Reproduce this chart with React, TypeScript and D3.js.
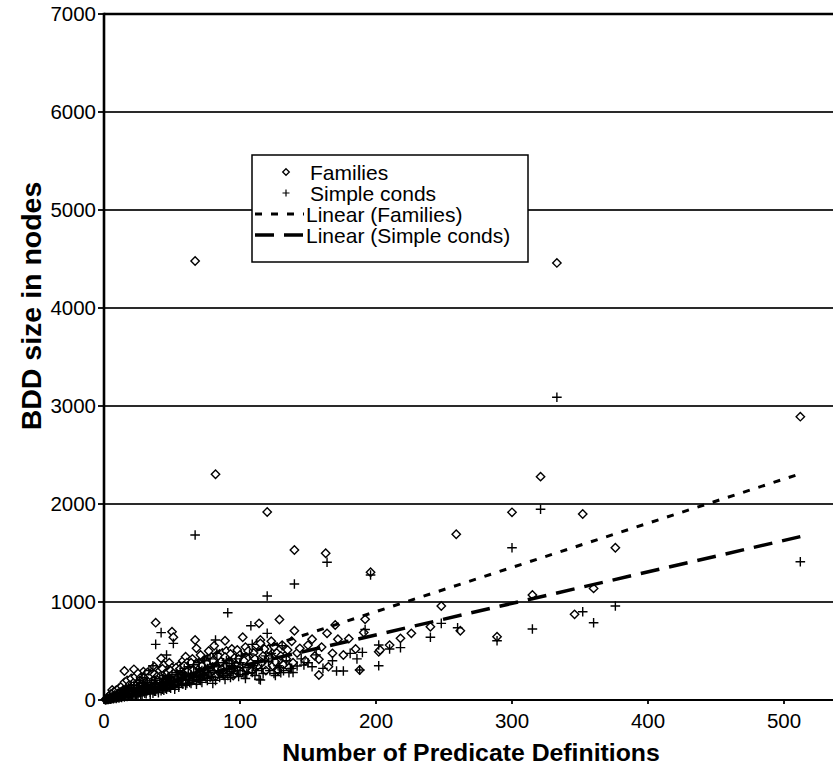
import React from 'react';
import * as d3 from 'd3';

// axis ticks
const xTicks = [0, 100, 200, 300, 400, 500];
const yTicks = [0, 1000, 2000, 3000, 4000, 5000, 6000, 7000];

// Families: [predicate definitions, BDD nodes]
const families: [number, number][] = [
  [1, 4], [2, 8], [2, 15], [3, 10], [3, 20], [4, 14], [4, 30], [5, 18], [5, 40], [6, 22], [6, 102],
  [7, 28], [7, 50], [8, 30], [8, 60], [9, 35], [9, 45], [10, 40], [10, 70], [11, 42], [11, 90],
  [12, 48], [12, 60], [13, 52], [13, 110], [14, 55], [14, 75], [15, 60], [15, 296], [16, 64], [16, 130],
  [17, 68], [17, 90], [18, 70], [18, 150], [19, 75], [19, 100], [20, 80], [20, 120], [21, 85], [21, 170],
  [22, 90], [22, 313], [23, 95], [23, 140], [24, 100], [24, 200], [25, 105], [25, 160], [26, 110], [26, 250],
  [27, 115], [27, 180], [28, 120], [28, 220], [29, 125], [29, 290], [30, 130], [30, 190], [31, 135], [31, 260],
  [32, 140], [33, 150], [33, 230], [34, 155], [35, 160], [35, 280], [36, 165], [37, 170], [37, 340], [38, 175],
  [38, 789], [39, 180], [40, 185], [40, 260], [41, 190], [42, 425], [42, 200], [43, 205], [44, 210], [44, 357],
  [45, 220], [46, 225], [46, 300], [47, 230], [48, 235], [48, 380], [49, 240], [50, 697], [50, 250], [51, 640],
  [52, 255], [53, 260], [54, 270], [55, 280], [55, 350], [56, 285], [57, 290], [58, 300], [58, 400], [59, 305],
  [60, 442], [61, 310], [62, 320], [63, 330], [64, 340], [65, 350], [66, 360], [67, 612], [67, 4480], [68, 527],
  [69, 370], [70, 380], [71, 390], [72, 400], [73, 260], [74, 410], [75, 408], [76, 420], [77, 300], [78, 430],
  [79, 440], [80, 350], [81, 554], [82, 2303], [83, 460], [84, 380], [85, 470], [86, 330], [87, 480], [88, 420],
  [89, 605], [90, 500], [92, 450], [94, 520], [96, 380], [98, 510], [100, 460], [102, 640], [104, 540], [106, 420],
  [107, 357], [110, 480], [112, 560], [114, 782], [115, 612], [115, 578], [117, 450], [120, 1918], [121, 520],
  [123, 600], [125, 544], [127, 480], [129, 822], [129, 408], [131, 560], [133, 450], [135, 510], [138, 600],
  [140, 707], [140, 1531], [142, 480], [144, 527], [148, 401], [150, 560], [153, 620], [155, 450], [158, 415],
  [158, 255], [160, 540], [163, 1497], [164, 680], [165, 340], [168, 476], [170, 765], [172, 620], [176, 459],
  [180, 626], [185, 520], [188, 306], [191, 688], [192, 823], [196, 1303], [202, 493], [203, 510], [210, 560],
  [218, 629], [226, 680], [240, 748], [248, 959], [259, 1691], [262, 707], [289, 646], [300, 1915], [315, 1071],
  [321, 2279], [333, 4460], [346, 874], [352, 1898], [360, 1139], [376, 1554], [512, 2891],
  // dense band
  [20, 60], [22, 130], [25, 80], [27, 140], [30, 110], [32, 200], [34, 120], [35, 210], [36, 240], [38, 140],
  [39, 300], [40, 150], [41, 250], [43, 180], [44, 280], [45, 160], [47, 310], [48, 190], [50, 200], [50, 330],
  [52, 220], [53, 300], [54, 180], [56, 240], [57, 330], [58, 200], [59, 260], [60, 180], [61, 380], [62, 240],
  [63, 290], [64, 200], [65, 420], [66, 270], [68, 230], [69, 320], [70, 260], [71, 460], [72, 300], [74, 250],
  [75, 350], [76, 290], [77, 500], [78, 260], [79, 350], [80, 300], [81, 410], [82, 240], [83, 330], [84, 450],
  [85, 280], [86, 390], [87, 320], [88, 260], [89, 440], [90, 350], [91, 300], [92, 380], [93, 470], [94, 320],
  [95, 250], [96, 430], [97, 350], [98, 290], [99, 420], [100, 330], [101, 280], [103, 400], [105, 320], [106, 500],
  [108, 380], [109, 300], [111, 420], [113, 350], [116, 380], [118, 520], [119, 300], [122, 430], [124, 350],
  [126, 390], [128, 300], [130, 450], [132, 360], [134, 420], [136, 330], [139, 380],
  // dense core
  [3, 30], [5, 60], [6, 45], [7, 80], [8, 45], [9, 100], [10, 55], [11, 120], [12, 85], [13, 140], [14, 100],
  [15, 180], [16, 110], [17, 200], [18, 120], [19, 160], [20, 220], [21, 140], [22, 180], [23, 240], [24, 150],
  [25, 270], [26, 190], [27, 230], [28, 160], [29, 200], [30, 240], [31, 180], [32, 280], [33, 190], [34, 250],
  [36, 200], [37, 260], [38, 220], [39, 240], [40, 210], [41, 300], [42, 250], [43, 320], [45, 270], [46, 190],
  [47, 280], [49, 300], [51, 270], [53, 330], [54, 230], [56, 320], [57, 250], [59, 350], [60, 280], [62, 300],
  [64, 380], [66, 310], [68, 360], [70, 320], [72, 350], [74, 300], [76, 380], [78, 330], [80, 400],
];

// Simple conds: [predicate definitions, BDD nodes]
const simpleConds: [number, number][] = [
  [1, 3], [2, 6], [2, 12], [3, 8], [3, 15], [4, 10], [4, 20], [5, 13], [5, 25], [6, 15], [6, 30],
  [7, 18], [7, 35], [8, 20], [8, 40], [9, 24], [9, 45], [10, 26], [10, 50], [11, 28], [11, 60], [12, 32],
  [12, 65], [13, 35], [13, 75], [14, 38], [14, 80], [15, 40], [15, 90], [16, 44], [16, 95], [17, 46],
  [17, 100], [18, 50], [18, 110], [19, 52], [19, 120], [20, 55], [20, 130], [21, 58], [22, 62], [22, 150],
  [23, 65], [24, 70], [24, 180], [25, 72], [26, 75], [26, 200], [27, 80], [28, 82], [28, 230], [29, 85],
  [30, 90], [30, 260], [31, 92], [32, 95], [33, 100], [33, 300], [34, 105], [35, 110], [36, 112], [36, 350],
  [37, 115], [38, 120], [38, 568], [39, 125], [40, 130], [41, 135], [42, 140], [42, 687], [43, 145], [44, 150],
  [45, 155], [46, 160], [46, 459], [47, 165], [48, 170], [49, 175], [50, 180], [51, 578], [52, 190], [53, 195],
  [54, 200], [55, 210], [56, 215], [57, 220], [58, 230], [60, 240], [62, 250], [64, 260], [66, 270], [67, 1684],
  [68, 280], [70, 290], [72, 300], [74, 310], [76, 320], [78, 330], [80, 340], [82, 612], [83, 476], [84, 280],
  [86, 300], [88, 250], [90, 320], [91, 891], [92, 374], [94, 290], [96, 340], [98, 300], [100, 380], [102, 330],
  [105, 272], [108, 758], [109, 568], [110, 350], [112, 300], [114, 211], [115, 204], [118, 400], [120, 1061],
  [120, 680], [121, 391], [123, 476], [125, 272], [128, 350], [130, 279], [131, 554], [136, 279], [138, 323],
  [140, 1184], [142, 347], [145, 420], [147, 357], [150, 380], [153, 340], [156, 460], [161, 323], [164, 1405],
  [168, 400], [171, 296], [176, 296], [181, 476], [186, 420], [188, 306], [190, 486], [192, 720], [196, 1276],
  [202, 561], [202, 350], [210, 520], [218, 534], [240, 640], [248, 782], [260, 738], [289, 605], [300, 1554],
  [315, 724], [321, 1946], [333, 3090], [352, 901], [360, 789], [376, 959], [512, 1411],
  // dense band
  [20, 40], [22, 90], [24, 50], [25, 110], [27, 60], [28, 140], [30, 70], [31, 160], [32, 120], [34, 60],
  [35, 180], [37, 90], [38, 200], [40, 100], [41, 220], [43, 110], [44, 250], [45, 120], [47, 230], [48, 130],
  [50, 260], [52, 140], [53, 280], [55, 150], [56, 300], [58, 160], [59, 320], [61, 170], [62, 340], [63, 180],
  [65, 200], [66, 360], [68, 190], [69, 240], [70, 380], [71, 200], [73, 260], [74, 400], [75, 220], [77, 280],
  [78, 420], [79, 240], [81, 300], [82, 200], [84, 350], [85, 230], [87, 270], [88, 380], [89, 210], [90, 400],
  [91, 250], [93, 230], [94, 350], [95, 270], [97, 420], [99, 240], [100, 300], [101, 450], [103, 260], [104, 220],
  [106, 330], [107, 470], [109, 280], [111, 250], [113, 400], [116, 320], [117, 270], [119, 450], [122, 300],
  [124, 420], [126, 250], [129, 330], [132, 300], [134, 400], [137, 320], [139, 280],
  // dense core
  [3, 5], [4, 35], [5, 8], [6, 40], [7, 12], [8, 55], [9, 15], [10, 65], [11, 20], [12, 80], [13, 25], [14, 100],
  [15, 30], [16, 120], [17, 35], [18, 130], [19, 40], [20, 150], [21, 45], [22, 110], [23, 50], [24, 130],
  [25, 55], [26, 150], [27, 100], [28, 60], [29, 170], [30, 120], [31, 65], [32, 180], [33, 130], [34, 80],
  [35, 140], [36, 70], [37, 200], [38, 90], [39, 160], [40, 75], [41, 180], [42, 95], [43, 220], [44, 100],
  [45, 190], [46, 110], [47, 130], [48, 240], [49, 120], [50, 150], [51, 200], [52, 110], [54, 260], [55, 130],
  [57, 170], [58, 280], [60, 150], [62, 200], [64, 170], [66, 230], [68, 160], [70, 210], [72, 180], [74, 250],
  [76, 200], [78, 230], [80, 170],
];

// linear trendlines, end points
const trendFamilies: [number, number][] = [[0, 0], [510, 2300]];
const trendSimple: [number, number][] = [[0, 22], [512, 1667]];

const legendLabels = ['Families', 'Simple conds', 'Linear (Families)', 'Linear (Simple conds)'];

const FONT = '"Liberation Sans", Arial, sans-serif';

const diamond = (cx: number, cy: number, r: number) =>
  `M${cx},${cy - r}L${cx + r},${cy}L${cx},${cy + r}L${cx - r},${cy}Z`;
const plus = (cx: number, cy: number, r: number) =>
  `M${cx - r},${cy}H${cx + r}M${cx},${cy - r}V${cy + r}`;

export default function App() {
  const width = 833;
  const height = 766;
  const left = 104;
  const top = 14;
  const bottom = 700;

  const x = d3.scaleLinear().domain([0, 600]).range([left, left + 816]);
  const y = d3.scaleLinear().domain([0, 7000]).range([bottom, top]);
  const line = d3.line<[number, number]>().x(d => x(d[0])).y(d => y(d[1]));

  const legX = 252, legY = 155, legW = 276, legH = 107;
  const rowY = (i: number) => 172 + i * 21;

  return (
    <svg width={width} height={height} style={{ position: 'absolute', left: 0, top: 0, background: '#fff' }}
      fontFamily={FONT}>
      <rect x={0} y={0} width={width} height={height} fill="#fff" />
      {/* gridlines */}
      {yTicks.slice(1, -1).map(t => (
        <line key={t} x1={left} x2={width} y1={y(t)} y2={y(t)} stroke="#2a2a2a" strokeWidth={1.8} />
      ))}
      {/* top border */}
      <line x1={left} x2={width} y1={top} y2={top} stroke="#000" strokeWidth={2.6} />

      {/* points */}
      <g fill="#fff" stroke="#000" strokeWidth={1.4}>
        {families.map((d, i) => (
          <path key={'f' + i} d={diamond(x(d[0]), y(d[1]), 4.2)} />
        ))}
      </g>
      <g fill="none" stroke="#000" strokeWidth={1.4}>
        {simpleConds.map((d, i) => (
          <path key={'s' + i} d={plus(x(d[0]), y(d[1]), 4.8)} />
        ))}
      </g>

      {/* trendlines */}
      <path d={line(trendFamilies) || ''} fill="none" stroke="#000" strokeWidth={3} strokeDasharray="7 9" />
      <path d={line(trendSimple) || ''} fill="none" stroke="#000" strokeWidth={3.5} strokeDasharray="19 10" />

      {/* axes */}
      <line x1={left} x2={left} y1={top - 1.3} y2={bottom} stroke="#000" strokeWidth={2.6} />
      <line x1={left} x2={width} y1={bottom} y2={bottom} stroke="#000" strokeWidth={2.2} />
      {yTicks.map(t => (
        <g key={t}>
          <line x1={left - 6} x2={left} y1={y(t)} y2={y(t)} stroke="#000" strokeWidth={1.8} />
          <text x={96} y={y(t)} dy="0.36em" textAnchor="end" fontSize={20.5}>{t}</text>
        </g>
      ))}
      {xTicks.map(t => (
        <g key={t}>
          <line x1={x(t)} x2={x(t)} y1={bottom} y2={bottom + 4} stroke="#000" strokeWidth={1.8} />
          <text x={x(t)} y={728} textAnchor="middle" fontSize={20.5}>{t}</text>
        </g>
      ))}

      {/* axis titles */}
      <text x={471} y={761} textAnchor="middle" fontSize={24.8} fontWeight="bold">Number of Predicate Definitions</text>
      <text transform="translate(41,306) rotate(-90)" textAnchor="middle" fontSize={28.5} fontWeight="bold">BDD size in nodes</text>

      {/* legend */}
      <rect x={legX} y={legY} width={legW} height={legH} fill="#fff" stroke="#000" strokeWidth={1.5} />
      <path d={diamond(286, rowY(0), 3.3)} fill="#fff" stroke="#000" strokeWidth={1.3} />
      <path d={plus(286, rowY(1), 3.5)} fill="none" stroke="#000" strokeWidth={1.2} />
      <line x1={255} x2={304} y1={rowY(2)} y2={rowY(2)} stroke="#000" strokeWidth={3} strokeDasharray="7 9" />
      <line x1={255} x2={304} y1={rowY(3)} y2={rowY(3)} stroke="#000" strokeWidth={3.5} strokeDasharray="19 10" />
      {legendLabels.map((l, i) => (
        <text key={l} x={i < 2 ? 310 : 306} y={rowY(i)} dy="0.36em" fontSize={21}>{l}</text>
      ))}
    </svg>
  );
}
